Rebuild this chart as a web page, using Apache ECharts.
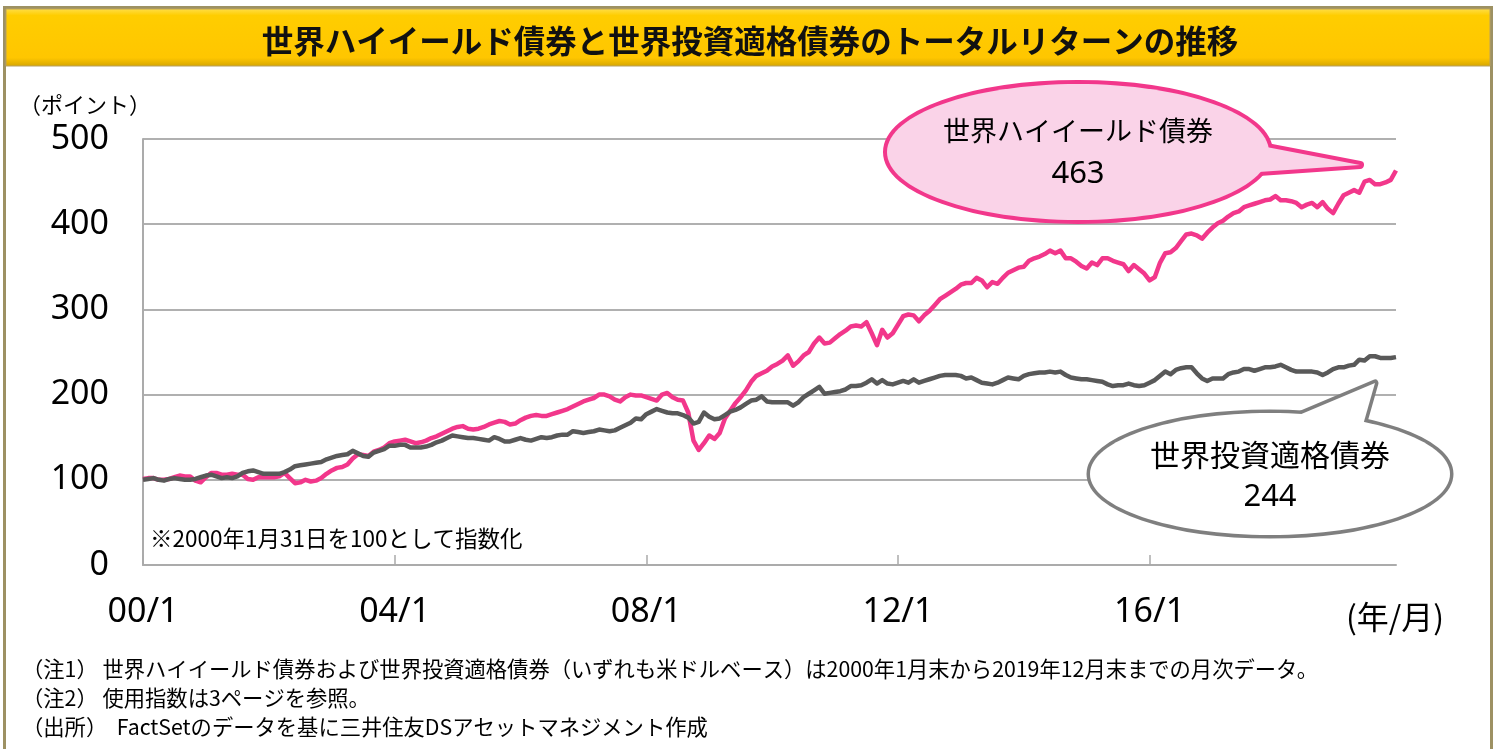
<!DOCTYPE html>
<html><head><meta charset="utf-8">
<script src="https://cdn.jsdelivr.net/npm/echarts@6/dist/echarts.min.js"></script>
<style>html,body{margin:0;padding:0;background:#fff}#c{width:1496px;height:749px}</style>
</head><body><div id="c"></div>
<script>
// ---- data ----
const titleText = '世界ハイイールド債券と世界投資適格債券のトータルリターンの推移';
const seriesNames = ['世界ハイイールド債券', '世界投資適格債券'];
const tickLabels = ['00/1', '04/1', '08/1', '12/1', '16/1'];
const yTicks = [0, 100, 200, 300, 400, 500];
// monthly categories 2000/1 .. 2019/12
const categories = [];
for (let y = 0; y < 20; y++) for (let m = 1; m <= 12; m++) categories.push(String(y).padStart(2, '0') + '/' + m);

const highYield = [
101,102,102,100,100,101,103,105,104,104,
99,97,103,108,108,106,106,107,106,106,
101,100,103,103,103,103,104,108,102,96,
97,100,98,99,102,107,111,114,115,118,
125,130,129,128,133,135,138,143,145,146,
147,145,143,144,146,149,151,154,157,160,
162,163,160,159,160,162,165,167,169,168,
165,166,170,173,175,176,175,175,177,179,
181,183,186,189,192,194,196,200,200,198,
194,192,197,200,199,199,197,195,193,200,
202,197,194,193,179,146,135,143,152,148,
155,172,181,190,197,205,215,222,225,228,
233,236,240,246,234,239,246,250,260,267,
260,261,266,271,275,280,281,280,285,272,
258,276,267,272,282,292,294,293,286,293,
298,305,312,316,320,324,329,331,331,337,
334,326,332,330,337,343,346,349,350,357,
360,362,365,369,366,369,360,360,356,351,
348,355,352,360,360,357,355,353,345,352,
347,342,334,338,355,366,367,372,380,388,
389,387,383,390,396,401,404,409,413,415,
420,422,424,426,428,429,433,428,428,427,
425,420,423,425,420,426,418,413,424,434,
437,440,437,450,452,447,447,449,452,463
];
const investmentGrade = [
100,101,102,100,99,101,102,101,100,100,
101,103,105,106,104,102,103,102,104,108,
110,111,109,107,107,107,107,109,112,116,
117,118,119,120,121,124,126,128,129,130,
134,131,128,127,132,134,136,140,140,141,
141,138,138,138,139,141,144,146,149,152,
151,150,149,149,148,147,146,150,148,145,
145,147,149,147,146,148,150,149,150,152,
153,153,157,156,155,156,157,159,158,157,
158,161,164,167,172,171,177,180,183,181,
179,178,178,176,173,166,168,179,174,171,
172,176,180,182,185,189,193,194,198,192,
191,191,191,191,187,191,197,201,205,209,
201,202,203,204,206,210,210,211,214,218,
213,217,213,212,214,216,214,218,214,216,
218,220,222,223,223,223,222,219,220,217,
214,213,212,214,217,220,219,218,222,224,
225,226,226,227,226,227,223,220,219,218,
218,217,216,215,212,210,211,211,213,211,
210,211,214,217,222,227,224,229,231,232,
232,225,219,216,219,219,219,224,226,227,
230,230,228,230,232,232,233,235,232,229,
227,227,227,227,226,223,226,230,232,232,
234,235,241,240,245,245,243,243,243,244
];
const notes = [
  '（注1） 世界ハイイールド債券および世界投資適格債券（いずれも米ドルベース）は2000年1月末から2019年12月末までの月次データ。',
  '（注2） 使用指数は3ページを参照。',
  '（出所）  FactSetのデータを基に三井住友DSアセットマネジメント作成'
];
const baseNote = '※2000年1月31日を100として指数化';

// ---- chart ----
const JP = '"Noto Sans CJK JP", "Noto Sans", sans-serif';
const NUM = '"Noto Sans", "Noto Sans CJK JP", sans-serif';
const PINK = '#F2378B', GRAY = '#595959';
const chart = echarts.init(document.getElementById('c'), null, {renderer: 'canvas'});

const lastHY = highYield[highYield.length - 1];
const lastIG = investmentGrade[investmentGrade.length - 1];

function bubble(cx, cy, rx, ry, tail, stroke, fill, lw, lines) {
  const els = [];
  els.push({type: 'polygon', z: 10, shape: {points: tail}, style: {fill: fill, stroke: stroke, lineWidth: lw, lineJoin: 'round'}});
  els.push({type: 'ellipse', z: 10, shape: {cx: cx, cy: cy, rx: rx, ry: ry}, style: {fill: fill, stroke: stroke, lineWidth: lw}});
  els.push({type: 'ellipse', z: 11, shape: {cx: cx, cy: cy, rx: rx, ry: ry}, style: {fill: fill}});
  els.push({type: 'polygon', z: 11, shape: {points: tail}, style: {fill: fill}});
  lines.forEach(function (l) {
    els.push({type: 'text', z: 12, x: cx, y: l.y, style: {text: l.t, fill: '#000', font: l.f, textAlign: 'center', textVerticalAlign: 'middle'}});
  });
  return els;
}

const graphics = [
  {type: 'rect', z: 0, shape: {x: 4.5, y: 7.5, width: 1487, height: 760}, style: {fill: '#fff', stroke: '#9d9163', lineWidth: 3}},
  {type: 'rect', z: 1, shape: {x: 6, y: 9, width: 1484, height: 57},
    style: {fill: new echarts.graphic.LinearGradient(0, 0, 0, 1, [
      {offset: 0, color: '#FFDF4A'}, {offset: 0.12, color: '#FFCD00'}, {offset: 0.85, color: '#FFC600'}, {offset: 1, color: '#D5A500'}]),
      stroke: '#b8a060', lineWidth: 1}},
  {type: 'text', z: 2, x: 750, y: 41, style: {text: titleText, fill: '#111', font: 'bold 31.5px ' + JP, textAlign: 'center', textVerticalAlign: 'middle'}},
  {type: 'text', z: 2, x: 19, y: 105, style: {text: '（ポイント）', fill: '#000', font: '22px ' + JP, textVerticalAlign: 'middle'}},
  {type: 'text', z: 2, x: 150, y: 538, style: {text: baseNote, fill: '#000', font: '22.5px ' + JP, textVerticalAlign: 'middle'}},
  {type: 'text', z: 2, x: 1395, y: 617, style: {text: '(年/月)', fill: '#000', font: '32px ' + JP, textAlign: 'center', textVerticalAlign: 'middle'}}
];
notes.forEach(function (t, i) {
  graphics.push({type: 'text', z: 2, x: 22, y: 669 + i * 29, style: {text: t, fill: '#000', font: '21.3px ' + JP, textVerticalAlign: 'middle'}});
});
bubble(1078, 152, 191, 68, [[1230, 140], [1360, 165], [1230, 174]], PINK, '#FAD3E8', 8,
  [{t: seriesNames[0], y: 131, f: '27px ' + JP}, {t: String(lastHY), y: 174, f: '31px ' + NUM}]).forEach(function (e) { graphics.push(e); });
bubble(1270, 474, 180, 61, [[1280, 423], [1375, 383], [1357, 446]], '#7f7f7f', '#ffffff', 7,
  [{t: seriesNames[1], y: 455, f: '30px ' + JP}, {t: String(lastIG), y: 497, f: '31px ' + NUM}]).forEach(function (e) { graphics.push(e); });

chart.setOption({
  animation: false,
  backgroundColor: 'transparent',
  grid: {left: 143, right: 100, top: 139, bottom: 184, containLabel: false},
  xAxis: {
    type: 'category', data: categories, boundaryGap: false,
    axisLine: {lineStyle: {color: '#ababab', width: 2}},
    axisTick: {show: true, inside: true, length: 10, interval: 47, lineStyle: {color: '#ababab', width: 1.5}},
    axisLabel: {interval: 47, fontSize: 34, fontFamily: NUM, color: '#000', margin: 30,
      formatter: function (v) { return tickLabels.indexOf(v) >= 0 ? v : ''; }},
    splitLine: {show: false}
  },
  yAxis: {
    type: 'value', min: yTicks[0], max: yTicks[yTicks.length - 1], interval: 100,
    axisLine: {show: true, lineStyle: {color: '#ababab', width: 2}},
    axisTick: {show: false},
    axisLabel: {fontSize: 34, fontFamily: NUM, color: '#000', margin: 34},
    splitLine: {lineStyle: {color: '#b0b0b0', width: 2}}
  },
  series: [
    {name: seriesNames[0], type: 'line', data: highYield, showSymbol: false, symbol: 'none', z: 3,
      lineStyle: {color: PINK, width: 4.5, join: 'round'}},
    {name: seriesNames[1], type: 'line', data: investmentGrade, showSymbol: false, symbol: 'none', z: 4,
      lineStyle: {color: GRAY, width: 4.5, join: 'round'}}
  ],
  graphic: graphics
});
</script></body></html>
